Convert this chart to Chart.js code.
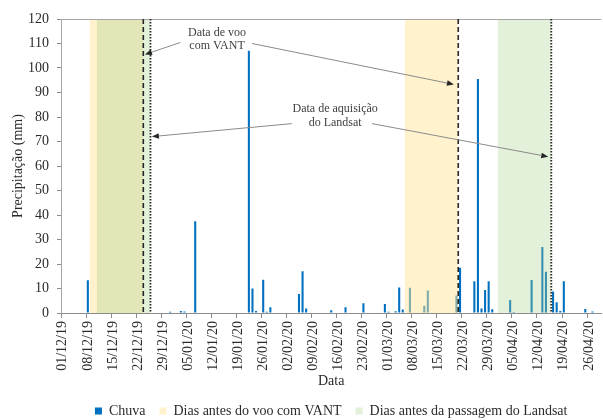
<!DOCTYPE html>
<html>
<head>
<meta charset="utf-8">
<script src="https://cdn.jsdelivr.net/npm/chart.js@4.4.1/dist/chart.umd.min.js"></script>
<style>
  html, body { margin: 0; padding: 0; background: #fff; }
  #box { width: 603px; height: 420px; }
</style>
</head>
<body>
<div id="box"><canvas id="myChart"></canvas></div>
<script>
// daily axis: 01/12/19 ... 29/04/20, a label every 7 days
var firstDay = [2019, 11, 1];
var nDays = 151;
var tickEvery = 7;

// rain (mm), only days with rain
var rainDates = ["08/12/19", "31/12/19", "03/01/20", "04/01/20", "07/01/20", "22/01/20", "23/01/20", "24/01/20",
                 "26/01/20", "27/01/20", "28/01/20", "05/02/20", "06/02/20", "07/02/20", "14/02/20", "18/02/20",
                 "23/02/20", "29/02/20", "01/03/20", "03/03/20", "04/03/20", "05/03/20", "07/03/20", "11/03/20",
                 "12/03/20", "20/03/20", "21/03/20", "25/03/20", "26/03/20", "27/03/20", "28/03/20", "29/03/20",
                 "30/03/20", "04/04/20", "05/04/20", "10/04/20", "13/04/20", "14/04/20", "16/04/20", "17/04/20",
                 "18/04/20", "19/04/20", "25/04/20", "27/04/20"];
var rainMm = [13.4, 0.5, 0.8, 0.6, 37.5, 107, 10, 0.8,
              13.6, 0.5, 2.3, 7.8, 17, 1.8, 1.1, 2.3,
              4.0, 3.7, 0.5, 0.7, 10.4, 1.4, 10.3, 3.0,
              9.2, 7.1, 18.5, 13, 95.5, 1.8, 9.4, 13,
              1.5, 5.3, 0.4, 13.5, 26.9, 16.8, 8.8, 4.4,
              0.8, 13, 1.6, 0.6];

// flight and satellite dates, shaded 15 days before each
var vooDates = ["24/12/19", "21/03/20"];
var landsatDates = ["26/12/19", "16/04/20"];
var daysBefore = 15;

var yMax = 120;
var yStep = 10;

var serif = "'Liberation Serif', 'Times New Roman', serif";
var textColor = "#2b2b2b";
var axisColor = "#8c8c8c";

function fmt(d) {
  return String(d.getDate()).padStart(2, "0") + "/" + String(d.getMonth() + 1).padStart(2, "0") + "/" + String(d.getFullYear()).slice(2);
}

var days = [];
for (var i = 0; i < nDays; i++) {
  days.push(fmt(new Date(firstDay[0], firstDay[1], firstDay[2] + i)));
}

var chuva = days.map(function () { return null; });
rainDates.forEach(function (d, i) { chuva[days.indexOf(d)] = rainMm[i]; });

// shaded block ends on the left edge of the event day
function shade(dates) {
  var pts = [];
  dates.forEach(function (d) {
    var end = days.indexOf(d) - 0.5;
    pts.push({x: end - daysBefore, y: yMax}, {x: end, y: yMax}, {x: end + 0.01, y: null});
  });
  return pts;
}

// annotations in axis units (day index, mm)
var notas = [
  {linhas: ["Data de voo", "com VANT"], x: 43.1, y: [114.5, 109.0],
   setas: [[32.8, 110.4, 22.97, 105.5], [52.9, 110.0, 109.3, 93.3]]},
  {linhas: ["Data de aquisição", "do Landsat"], x: 76.1, y: [83.2, 77.5],
   setas: [[64.0, 77.3, 24.9, 72.0], [86.4, 77.3, 135.65, 63.8]]}
];

function arrow(ctx, x0, y0, x1, y1) {
  var ang = Math.atan2(y1 - y0, x1 - x0);
  var L = 7, W = 2.8;
  var bx = x1 - L * Math.cos(ang), by = y1 - L * Math.sin(ang);
  ctx.strokeStyle = "#8a8a8a";
  ctx.lineWidth = 1;
  ctx.setLineDash([]);
  ctx.beginPath(); ctx.moveTo(x0, y0); ctx.lineTo(bx, by); ctx.stroke();
  ctx.fillStyle = "#262626";
  ctx.beginPath();
  ctx.moveTo(x1, y1);
  ctx.lineTo(bx + W * Math.sin(ang), by - W * Math.cos(ang));
  ctx.lineTo(bx - W * Math.sin(ang), by + W * Math.cos(ang));
  ctx.closePath();
  ctx.fill();
}

var overlay = {
  id: "overlay",
  afterDatasetsDraw: function (chart) {
    var ctx = chart.ctx, a = chart.chartArea, x = chart.scales.x, y = chart.scales.y;
    ctx.save();
    // top border of plot
    ctx.strokeStyle = "#a6a6a6";
    ctx.lineWidth = 1;
    ctx.beginPath(); ctx.moveTo(a.left, a.top + 0.5); ctx.lineTo(a.right, a.top + 0.5); ctx.stroke();

    // dashed: voo, dotted: landsat
    function vline(d, dash, w) {
      var px = x.getPixelForValue(days.indexOf(d) - 0.5);
      ctx.strokeStyle = "#262626";
      ctx.lineWidth = w;
      ctx.setLineDash(dash);
      ctx.beginPath(); ctx.moveTo(px, y.getPixelForValue(yMax)); ctx.lineTo(px, y.getPixelForValue(0)); ctx.stroke();
    }
    vooDates.forEach(function (d) { vline(d, [5, 3], 1.6); });
    landsatDates.forEach(function (d) { vline(d, [1.5, 1.5], 1.8); });

    ctx.font = "12px " + serif;
    ctx.textAlign = "center";
    ctx.textBaseline = "middle";
    notas.forEach(function (n) {
      ctx.fillStyle = "#404040";
      n.linhas.forEach(function (t, k) {
        ctx.fillText(t, x.getPixelForValue(n.x), y.getPixelForValue(n.y[k]));
      });
      n.setas.forEach(function (s) {
        arrow(ctx, x.getPixelForValue(s[0]), y.getPixelForValue(s[1]), x.getPixelForValue(s[2]), y.getPixelForValue(s[3]));
      });
    });
    ctx.restore();
  }
};

new Chart("myChart", {
  type: "bar",
  data: {
    labels: days,
    datasets: [{
      label: "Chuva",
      data: chuva,
      backgroundColor: "#0070C0",
      borderWidth: 0,
      categoryPercentage: 1,
      barPercentage: 0.58,
      order: 3
    }, {
      type: "line",
      label: "Dias antes do voo com VANT",
      data: shade(vooDates),
      parsing: false,
      backgroundColor: "rgba(255, 230, 153, 0.5)",
      borderColor: "rgba(0,0,0,0)",
      borderWidth: 0,
      pointRadius: 0,
      tension: 0,
      fill: "origin",
      order: 2
    }, {
      type: "line",
      label: "Dias antes da passagem do Landsat",
      data: shade(landsatDates),
      parsing: false,
      backgroundColor: "rgba(169, 208, 142, 0.33)",
      borderColor: "rgba(0,0,0,0)",
      borderWidth: 0,
      pointRadius: 0,
      tension: 0,
      fill: "origin",
      order: 1
    }]
  },
  options: {
    responsive: true,
    maintainAspectRatio: false,
    animation: false,
    layout: {padding: {top: 19, right: 1.6, bottom: 0, left: 0}},
    plugins: {
      tooltip: {enabled: false},
      legend: {
        position: "bottom",
        fullSize: false,
        maxHeight: 30,
        labels: {
          boxWidth: 7, boxHeight: 7, padding: 14, color: textColor, font: {family: serif, size: 14},
          sort: function (a, b) { return a.datasetIndex - b.datasetIndex; }
        }
      }
    },
    scales: {
      x: {
        offset: true,
        grid: {
          offset: true,
          drawOnChartArea: false,
          tickLength: 5,
          color: function (c) { return c.index % tickEvery === 0 ? axisColor : "rgba(0,0,0,0)"; }
        },
        border: {color: axisColor},
        ticks: {
          autoSkip: false,
          minRotation: 90,
          maxRotation: 90,
          padding: 3,
          color: textColor,
          font: {family: serif, size: 14},
          callback: function (v, i) { return i % tickEvery === 0 ? days[i] : ""; }
        },
        title: {display: true, text: "Data", color: textColor, font: {family: serif, size: 14}, padding: {top: 0, bottom: 0}},
        afterFit: function (s) { s.height = 77; s.paddingLeft = 0; s.paddingRight = 0; }
      },
      y: {
        min: 0,
        max: yMax,
        ticks: {stepSize: yStep, padding: 8, color: textColor, font: {family: serif, size: 14}},
        grid: {drawOnChartArea: false, tickLength: 4, color: axisColor},
        border: {color: "#a6a6a6"},
        title: {display: true, text: "Precipitação (mm)", color: textColor, font: {family: serif, size: 14}, padding: {top: 10, bottom: 0}},
        afterFit: function (s) { s.width = 61; }
      }
    }
  },
  plugins: [overlay]
});
</script>
</body>
</html>
